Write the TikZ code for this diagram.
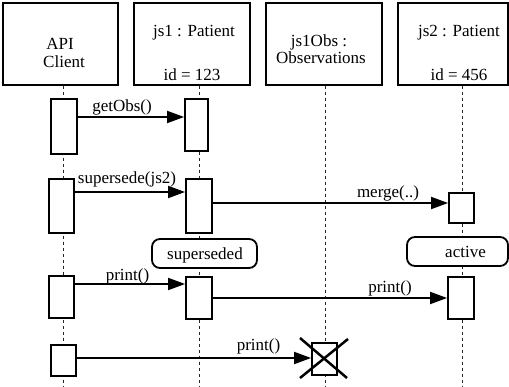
\documentclass[tikz,border=0pt]{standalone}
\usepackage{fontspec}
\setmainfont{Liberation Serif}
\usetikzlibrary{arrows.meta,calc}
\begin{document}
\begin{tikzpicture}[x=1pt,y=-1pt,
  every node/.style={font=\fontsize{17}{19}\selectfont},
  hdr/.style={draw,line width=1.2pt,inner sep=0pt,minimum width=#1,minimum height=82pt},
  act/.style={draw,fill=white,line width=1.8pt,inner sep=0pt},
  state/.style={draw,fill=white,line width=1.8pt,rounded corners=8pt,inner sep=0pt,minimum height=29pt},
  lbl/.style={anchor=base,inner sep=0pt},
  life/.style={draw=black!85,line width=0.9pt,dash pattern=on 3pt off 3pt},
  msg/.style={line width=1.8pt,-{Triangle[length=17pt,width=12pt]}},
  plain/.style={line width=1.8pt}]
\useasboundingbox (0,0) rectangle (509,387);
% header boxes
\node[hdr=115pt] (h1) at (60.5,44) {};
\node[hdr=116pt] (h2) at (192,44) {};
\node[hdr=116pt] (h3) at (324,44) {};
\node[hdr=110pt] (h4) at (453,44) {};
\node[lbl] (t1a) at (60,50) {API};
\node[lbl] (t1b) at (64,68) {Client};
\node[lbl] (t2a) at (194,37) {js1 : Patient};
\node[lbl] (t2b) at (192,81) {id = 123};
\node[lbl] (t3a) at (319,47) {js1Obs :};
\node[lbl] (t3b) at (321,64) {Observations};
\node[lbl] (t4a) at (459,37) {js2 : Patient};
\node[lbl] (t4b) at (459,81) {id = 456};
% lifelines
\coordinate (l1) at (63,387);
\coordinate (l2) at (199,387);
\coordinate (l3) at (325,387);
\coordinate (l4) at (462,387);
\draw[life] (l1 |- h1.south) -- (l1);
\draw[life] (l2 |- h2.south) -- (l2);
\draw[life] (l3 |- h3.south) -- (l3);
\draw[life] (l4 |- h4.south) -- (l4);
% activation boxes
\node[act,minimum width=26pt,minimum height=55pt] (a1) at (64,126.5) {};
\node[act,minimum width=23pt,minimum height=52pt] (j1) at (196.5,125) {};
\node[act,minimum width=25pt,minimum height=54pt] (a2) at (61.5,206) {};
\node[act,minimum width=26pt,minimum height=54pt] (j2) at (199,206) {};
\node[act,minimum width=25pt,minimum height=30pt] (k1) at (461.5,208) {};
\node[act,minimum width=25pt,minimum height=42pt] (a3) at (61.5,297) {};
\node[act,minimum width=26pt,minimum height=42pt] (j3) at (199,298) {};
\node[act,minimum width=26pt,minimum height=42pt] (k2) at (461,298) {};
\node[act,minimum width=25pt,minimum height=31pt] (a4) at (63.5,360.5) {};
\node[act,minimum width=25pt,minimum height=32pt] (d) at (324.5,359) {};
% states
\node[state,minimum width=105pt] (s1) at (204.5,253.5) {};
\node[lbl] (s1t) at (205,260) {superseded};
\node[state,minimum width=101pt] (s2) at (457.5,251.5) {};
\node[lbl] (s2t) at (465.5,258) {active};
% messages
\coordinate (y1) at (0,117);
\coordinate (y2) at (0,192);
\coordinate (y3) at (0,203);
\coordinate (y4) at (0,284);
\coordinate (y5) at (0,298);
\coordinate (y6) at (0,358);
\draw[msg] (a1.east |- y1) -- (j1.west |- y1);
\draw[msg] (a2.east |- y2) -- (j2.west |- y2);
\draw[msg] (j2.east |- y3) -- (k1.west |- y3);
\draw[msg] (a3.east |- y4) -- (j3.west |- y4);
\draw[msg] (j3.east |- y5) -- (k2.west |- y5);
\draw[msg] (a4.east |- y6) -- (d.west |- y6);
\node[lbl] (m1) at (122,112) {getObs()};
\node[lbl] (m2) at (127,184) {supersede(js2)};
\node[lbl] (m3) at (388,198) {merge(..)};
\node[lbl] (m4) at (127.5,281) {print()};
\node[lbl] (m5) at (390,293) {print()};
\node[lbl] (m6) at (258.5,351) {print()};
% destruction mark
\draw[line width=2.5pt] ($(d.center)+(-24.5,-21)$) -- ($(d.center)+(22.5,19)$);
\draw[line width=2.5pt] ($(d.center)+(23.5,-20)$) -- ($(d.center)+(-24.5,19)$);
\end{tikzpicture}
\end{document}
